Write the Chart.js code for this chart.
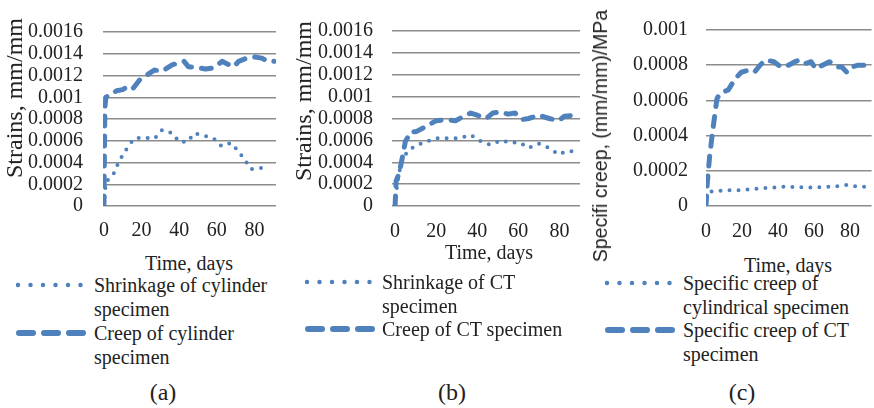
<!DOCTYPE html>
<html>
<head>
<meta charset="utf-8">
<script src="https://cdn.jsdelivr.net/npm/chart.js@4.4.1/dist/chart.umd.min.js"></script>
<style>
  body { margin: 0; background: #fff; }
  #page { position: relative; width: 874px; height: 408px; overflow: hidden;
          font-family: "Liberation Serif", "Times New Roman", serif; color: #222; }
  canvas { position: absolute; }
  .txt { position: absolute; white-space: pre-line; font-size: 20px; line-height: 24px; }
  .ytitle { position: absolute; white-space: nowrap; transform: translate(-50%, -50%) rotate(-90deg); }
  .ctr { transform: translate(-50%, -50%); white-space: nowrap; }
  .swatch { position: absolute; }
</style>
</head>
<body>
<div id="page">
  <canvas id="chartA" width="285" height="250" style="left:0;top:0"></canvas>
  <canvas id="chartB" width="294" height="250" style="left:290px;top:0"></canvas>
  <canvas id="chartC" width="284" height="250" style="left:590px;top:0"></canvas>
</div>
<script>
// tick labels
const xTicks = [0, 20, 40, 60, 80];
const yTicksStrain = [0, 0.0002, 0.0004, 0.0006, 0.0008, 0.001, 0.0012, 0.0014, 0.0016];
const yTicksSpecific = [0, 0.0002, 0.0004, 0.0006, 0.0008, 0.001];

// (a) cylinder specimen, strains mm/mm
const aShrinkDays = [0, 1, 5, 7.5, 10, 13, 16, 21, 27, 31, 36.5, 40, 44.5, 48, 52.6, 58.4, 62.5, 67.5, 70.7, 74.7, 78, 84];
const aShrink = [0, 0.00022, 0.00029, 0.00039, 0.00047, 0.00055, 0.00062, 0.00063, 0.00062, 0.0007, 0.00067, 0.00059, 0.00059, 0.00067, 0.00065, 0.00062, 0.00055, 0.00058, 0.00052, 0.00043, 0.00034, 0.00035];
const aCreepDays = [0, 0.5, 1, 3.2, 6.7, 10, 12.8, 15.4, 19, 22.5, 26.8, 31, 36.5, 39, 42.6, 45, 50.5, 54, 58.4, 62.8, 66.3, 69, 71.6, 76, 80.4, 83.8, 87.4, 90.5];
const aCreep = [0, 0.0009, 0.001, 0.00102, 0.00106, 0.00107, 0.0011, 0.00108, 0.00116, 0.0012, 0.00125, 0.00124, 0.0013, 0.00131, 0.00133, 0.00128, 0.00127, 0.00126, 0.00127, 0.00133, 0.0013, 0.00128, 0.00133, 0.00136, 0.00137, 0.00136, 0.00133, 0.00133];

// (b) CT specimen, strains mm/mm
const bShrinkDays = [0, 1, 3, 6, 10, 15.3, 20.2, 25, 31, 36.8, 41.8, 46.4, 51.7, 55.9, 60.8, 65, 70, 75, 79.6, 83.2, 89];
const bShrink = [0, 0.0002, 0.0004, 0.0005, 0.00055, 0.00059, 0.00062, 0.00062, 0.00062, 0.00065, 0.00059, 0.00056, 0.0006, 0.00058, 0.00058, 0.00053, 0.00057, 0.00053, 0.00047, 0.0005, 0.0005];
const bCreepDays = [0, 0.5, 2, 3.6, 5, 7.8, 10.3, 15.3, 20, 25, 29.4, 33.5, 36.8, 40, 44.3, 47.6, 51, 55, 58.4, 61.7, 65, 70, 75, 79.6, 82.4, 87.4, 90];
const bCreep = [0, 0.00023, 0.0003, 0.00045, 0.00059, 0.00068, 0.00068, 0.00073, 0.00078, 0.00079, 0.00078, 0.00082, 0.00085, 0.00083, 0.0008, 0.00085, 0.00086, 0.00084, 0.00085, 0.00079, 0.0008, 0.00083, 0.0008, 0.00078, 0.00082, 0.00083, 0.00083];

// (c) specific creep, (mm/mm)/MPa
const cCylDays = [0, 1, 5, 12, 20, 30, 44, 57, 71, 78, 84, 90];
const cCyl = [0, 0.00008, 0.000085, 0.00009, 0.00009, 0.0001, 0.00011, 0.000105, 0.00011, 0.00012, 0.00011, 0.00011];
const cCTDays = [0, 0.7, 2, 3.4, 4.9, 6.1, 7.9, 12.4, 16, 19.6, 23.2, 26.9, 30, 33.1, 37.7, 41.6, 45.8, 49.4, 52, 55.3, 58.4, 61, 64.7, 68.6, 72.8, 75.5, 78.2, 80.9, 84.5, 89];
const cCT = [0, 0.000127, 0.00028, 0.0004, 0.00052, 0.00061, 0.00064, 0.00066, 0.00072, 0.00076, 0.00077, 0.00076, 0.0008, 0.00083, 0.00082, 0.00079, 0.0008, 0.00082, 0.00083, 0.00081, 0.00082, 0.00078, 0.0008, 0.00082, 0.00079, 0.00079, 0.00076, 0.00079, 0.0008, 0.0008];

const aLabels = ["Shrinkage of cylinder\nspecimen", "Creep of cylinder\nspecimen"];
const bLabels = ["Shrinkage of CT\nspecimen", "Creep of CT specimen"];
const cLabels = ["Specific creep of\ncylindrical specimen", "Specific creep of CT\nspecimen"];

const BLUE = "#4f81bd";
const tickFont = { family: "'Liberation Serif', 'Times New Roman', serif", size: 20 };

function pts(days, vals) {
  return days.map((d, i) => ({ x: d, y: vals[i] }));
}

function makeChart(id, o) {
  return new Chart(document.getElementById(id), {
    type: "line",
    data: {
      datasets: [
        { data: pts(o.dotDays, o.dotVals), borderColor: BLUE, borderWidth: 4,
          borderDash: [0, 9], borderCapStyle: "round", borderJoinStyle: "round", pointRadius: 0 },
        { data: pts(o.dashDays, o.dashVals), borderColor: BLUE, borderWidth: 5,
          borderDash: [10, 10], borderCapStyle: "round", borderJoinStyle: "round", pointRadius: 0 }
      ]
    },
    options: {
      responsive: false,
      animation: false,
      devicePixelRatio: 1,
      layout: { padding: { top: o.top, right: o.right, left: 0, bottom: 0 } },
      plugins: { legend: { display: false }, tooltip: { enabled: false } },
      scales: {
        x: {
          type: "linear", min: o.xMin, max: o.xMax,
          grid: { display: false, drawTicks: false },
          border: { display: false },
          ticks: { padding: o.xPad, font: tickFont, color: "#222", autoSkip: false },
          afterBuildTicks: s => { s.ticks = xTicks.map(v => ({ value: v })); },
          afterFit: s => { s.height = 44; }
        },
        y: {
          min: 0, max: o.yMax,
          grid: { color: "#8c8c8c", lineWidth: 1.5, drawTicks: false },
          border: { display: false },
          ticks: { padding: o.yPad, font: tickFont, color: "#222", autoSkip: false,
                   callback: v => String(v) },
          afterBuildTicks: s => { s.ticks = o.yTicks.map(v => ({ value: v })); },
          afterFit: s => { s.width = o.yW; }
        }
      }
    }
  });
}

makeChart("chartA", { dotDays: aShrinkDays, dotVals: aShrink, dashDays: aCreepDays, dashVals: aCreep,
  xMin: -0.5, xMax: 91.5, yMax: 0.0016, yTicks: yTicksStrain, top: 18, right: 9, yW: 103, yPad: 20, xPad: 13 });
makeChart("chartB", { dotDays: bShrinkDays, dotVals: bShrink, dashDays: bCreepDays, dashVals: bCreep,
  xMin: -1.5, xMax: 90, yMax: 0.0016, yTicks: yTicksStrain, top: 15, right: 4, yW: 102, yPad: 19, xPad: 14 });
makeChart("chartC", { dotDays: cCylDays, dotVals: cCyl, dashDays: cCTDays, dashVals: cCT,
  xMin: 0, xMax: 92, yMax: 0.001, yTicks: yTicksSpecific, top: 15, right: 0, yW: 116, yPad: 18, xPad: 14 });

// titles, legends and panel letters
const page = document.getElementById("page");
function addText(str, x, y, cls, style) {
  const d = document.createElement("div");
  d.className = "txt " + (cls || "");
  d.textContent = str;
  d.style.left = x + "px";
  d.style.top = y + "px";
  Object.assign(d.style, style || {});
  page.appendChild(d);
  return d;
}
function swatch(x, y, dotted) {
  const ns = "http://www.w3.org/2000/svg";
  const svg = document.createElementNS(ns, "svg");
  svg.setAttribute("width", 72);
  svg.setAttribute("height", 10);
  svg.setAttribute("class", "swatch");
  svg.style.left = x + "px";
  svg.style.top = (y - 5) + "px";
  const ln = document.createElementNS(ns, "line");
  ln.setAttribute("x1", dotted ? 2 : 3);
  ln.setAttribute("x2", 69);
  ln.setAttribute("y1", 5);
  ln.setAttribute("y2", 5);
  ln.setAttribute("stroke", BLUE);
  ln.setAttribute("stroke-linecap", "round");
  ln.setAttribute("stroke-width", dotted ? 4.5 : 6);
  ln.setAttribute("stroke-dasharray", dotted ? "0 12.5" : "14 11");
  svg.appendChild(ln);
  page.appendChild(svg);
}

addText("Strains, mm/mm", 14, 98, "ytitle", { fontSize: "24px" });
addText("Strains, mm/mm", 303, 101, "ytitle", { fontSize: "24px" });
addText("Specifi creep, (mm/mm)/MPa", 600, 136, "ytitle",
  { fontSize: "19.5px", fontFamily: "'Liberation Sans', Arial, sans-serif" });

addText("Time, days", 189, 263, "ctr");
addText("Time, days", 489, 252, "ctr");
addText("Time, days", 788, 265, "ctr");

swatch(16, 285, true);  addText(aLabels[0], 94, 273);
swatch(16, 333, false); addText(aLabels[1], 94, 321);
swatch(305, 282, true); addText(bLabels[0], 382, 270);
swatch(305, 329, false); addText(bLabels[1], 382, 317);
swatch(605, 283, true); addText(cLabels[0], 683, 271);
swatch(605, 330, false); addText(cLabels[1], 683, 318);

addText("(a)", 163, 392, "ctr", { fontSize: "24px" });
addText("(b)", 452, 392, "ctr", { fontSize: "24px" });
addText("(c)", 742, 392, "ctr", { fontSize: "24px" });
</script>
</body>
</html>
